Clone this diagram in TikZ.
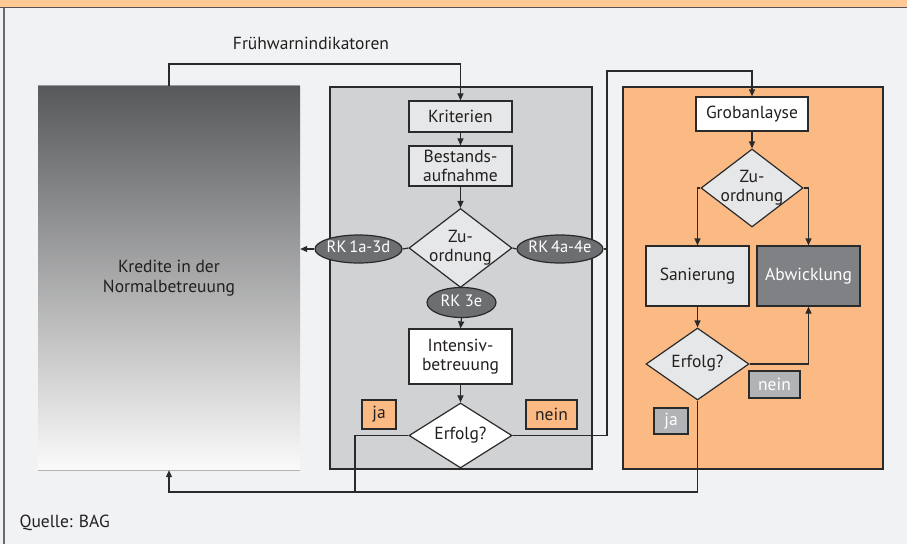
\documentclass[tikz,border=0pt]{standalone}
\usepackage{fontspec}
\setmainfont{PT Sans}
\usetikzlibrary{shapes.geometric,arrows.meta}
\definecolor{bg}{HTML}{F1F2F4}
\definecolor{band}{HTML}{FFC895}
\definecolor{ln}{HTML}{2B2A2B}
\definecolor{txt}{HTML}{231F20}
\definecolor{midp}{HTML}{D1D2D4}
\definecolor{orp}{HTML}{FBBA83}
\definecolor{lgray}{HTML}{E6E7E8}
\definecolor{ellc}{HTML}{6D6E71}
\definecolor{dbox}{HTML}{808184}
\definecolor{tgray}{HTML}{B1B3B6}
\definecolor{gtop}{HTML}{58595B}
\definecolor{gbot}{HTML}{FAFAFA}
\newcommand{\mk}[1]{\makebox[0pt]{\begin{tabular}{@{}c@{}}#1\end{tabular}}}
\tikzset{
  box/.style={draw=ln, line width=1.2pt, rectangle, inner sep=0pt, align=center, text=txt},
  dia/.style={draw=ln, line width=1.2pt, diamond, aspect=1, inner sep=0pt, text=txt},
  ell/.style={draw=ln, line width=1.2pt, ellipse, fill=ellc, inner sep=0pt, text=white, font=\fontsize{16.5}{19}\selectfont},
  panel/.style={draw=ln, line width=1.3pt, rectangle, inner sep=0pt},
  tag/.style={draw=ln, line width=1.2pt, rectangle, inner sep=0pt},
  con/.style={draw=ln, line width=1.2pt},
  arr/.style={-{Triangle[length=7pt,width=6pt]}}
}
\begin{document}
\begin{tikzpicture}[x=1pt,y=-1pt,font=\fontsize{17.5}{19}\selectfont]
\useasboundingbox (0,0) rectangle (907,544);
\fill[bg] (0,0) rectangle (907,544);
\fill[band] (0,0) rectangle (907,7.5);
\draw[ln!80, line width=1.2pt] (0,7.5) -- (907,7.5);
\draw[ln!70, line width=1.2pt] (4,7.5) -- (4,544);

\node[text=txt] (fw) at (311,43) {Frühwarnindikatoren};
\node[anchor=west, text=txt] (q) at (16,523) {Quelle: BAG};

% left gradient box
\node[rectangle, inner sep=0pt, top color=gtop, bottom color=gbot, minimum width=262, minimum height=384, align=center, text=txt] (kg) at (169,278) {Kredite in der\\[1pt]Normalbetreuung};
\draw[gray!80, line width=1pt] (kg.north west) -- (kg.north east);
\draw[gray!60, line width=1pt] (kg.south west) -- (kg.south east);

% panels
\node[panel, fill=midp, minimum width=262, minimum height=382] (mp) at (461,278) {};
\node[panel, fill=orp, minimum width=260, minimum height=382] (rp) at (753,278) {};

% middle column
\node[box, fill=lgray, minimum width=103, minimum height=31] (kr) at (460.5,116.5) {Kriterien};
\node[box, fill=lgray, minimum width=103, minimum height=40] (ba) at (460.5,166) {Bestands-\\aufnahme};
\node[dia, fill=lgray, minimum width=103, minimum height=79] (zu) at (460.5,248) {\mk{Zu-\\ordnung}};
\node[ell, minimum width=87, minimum height=28] (rk1) at (358.5,249) {\mk{RK\,1a-3d}};
\node[ell, minimum width=86, minimum height=28] (rk4) at (560,249) {\mk{RK\,4a-4e}};
\node[ell, minimum width=69, minimum height=30] (rk3) at (461.5,302.5) {\mk{RK 3e}};
\node[box, fill=white, minimum width=103, minimum height=55] (ib) at (460.5,356.5) {Intensiv-\\betreuung};
\node[dia, fill=white, minimum width=103, minimum height=65] (ef) at (460.5,435.5) {\mk{Erfolg?}};
\node[tag, fill=orp, minimum width=34, minimum height=29, text=txt] (ja1) at (379,414.5) {ja};
\node[tag, fill=orp, minimum width=51, minimum height=29, text=txt] (ne1) at (551.5,414.5) {nein};

% right column
\node[box, fill=white, minimum width=112, minimum height=34] (gr) at (752,114) {Grobanlayse};
\node[dia, fill=lgray, minimum width=102, minimum height=78] (z2) at (752,188) {\mk{Zu-\\ordnung}};
\node[box, fill=lgray, minimum width=103, minimum height=60] (sa) at (697.5,276) {Sanierung};
\node[box, fill=dbox, minimum width=103, minimum height=60, text=white] (ab) at (808.5,276) {Abwicklung};
\node[dia, fill=lgray, minimum width=103, minimum height=72] (e2) at (697.5,364) {\mk{Erfolg?}};
\node[tag, fill=tgray, minimum width=51, minimum height=27, text=white] (ne2) at (774.5,384.5) {nein};
\node[tag, fill=tgray, minimum width=34, minimum height=26, text=white] (ja2) at (671,421) {ja};

% helper coordinates
\coordinate (c1) at (607,71);
\coordinate (c2) at (169,64);
\coordinate (j1) at (355,492);

% connectors
\draw[con,arr] (kg.north) -- (c2) -| (kr.north);
\draw[con,arr] (kr.south) -- (ba.north);
\draw[con,arr] (ba.south) -- (zu.north);
\draw[con] (zu.west) -- (rk1.east);
\draw[con,arr] (rk1.west) -- (rk1.west -| kg.east);
\draw[con] (zu.east) -- (rk4.west);
\draw[con] (rk4.east) -- (rk4.east -| c1);
\draw[con] (zu.south) -- (rk3.north);
\draw[con,arr] (rk3.south) -- (ib.north);
\draw[con,arr] (ib.south) -- (ef.north);
\draw[con,arr] (ef.east) -| (c1) -| (gr.north);
\draw[con,arr] (ef.west) -| (j1) -| (kg.south);
\draw[con] (e2.south) |- (j1);
\draw[con,arr] (gr.south) -- (z2.north);
\draw[con,arr] (z2.west) -| (sa.north);
\draw[con,arr] (z2.east) -| (ab.north);
\draw[con,arr] (sa.south) -- (e2.north);
\draw[con,arr] (e2.east) -| (ab.south);
\end{tikzpicture}
\end{document}
